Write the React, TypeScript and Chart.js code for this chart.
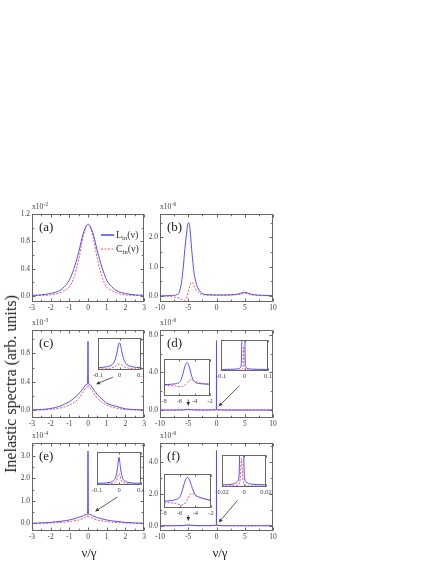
import React, { useEffect, useLayoutEffect, useRef } from "react";
import { Chart, registerables } from "chart.js";

Chart.register(...registerables);

const FONT = "'Liberation Serif', 'Times New Roman', Times, serif";
const BLUE = "#5050ff";
const RED = "#ff5050";
const AXIS = "#666666";
const TEXT = "#444444";

// ---------- panel (a) ----------
const aX = [-3, -2.5, -2, -1.5, -1.25, -1, -0.75, -0.5, -0.25, 0, 0.25, 0.5, 0.75, 1, 1.25, 1.5, 2, 2.5, 3];
const aL = [0.008, 0.015, 0.035, 0.08, 0.14, 0.23, 0.4, 0.64, 0.92, 1.05, 0.93, 0.66, 0.42, 0.23, 0.14, 0.08, 0.035, 0.015, 0.008];
const aC = [0.003, 0.006, 0.015, 0.045, 0.08, 0.13, 0.27, 0.53, 0.88, 1.05, 0.89, 0.55, 0.28, 0.13, 0.08, 0.045, 0.015, 0.006, 0.003];

// ---------- panel (b) ----------
const bLX = [-10, -8, -7, -6.6, -6.2, -5.9, -5.6, -5.3, -5.1, -4.9, -4.7, -4.4, -4.1, -3.9, -3.5, -3.2, -2.8, -2.3, -1.5, 0, 2, 3, 4, 4.5, 5, 5.5, 6, 7, 8, 10];
const bL = [0.01, 0.02, 0.05, 0.12, 0.46, 0.95, 1.6, 2.15, 2.45, 2.5, 2.3, 1.6, 1.0, 0.7, 0.38, 0.24, 0.13, 0.07, 0.05, 0.04, 0.04, 0.05, 0.08, 0.11, 0.13, 0.11, 0.07, 0.04, 0.03, 0.015];
const bCX = [-10, -8.5, -7.5, -7, -6.5, -6, -5.75, -5.5, -5.2, -5, -4.8, -4.6, -4.4, -4.2, -4, -3.7, -3.3, -2.8, -2, -1, 0, 2, 3, 4, 4.5, 5, 5.5, 6, 7, 8, 10];
const bC = [0.0, -0.01, -0.03, -0.05, -0.08, -0.12, -0.15, -0.12, 0.0, 0.15, 0.3, 0.42, 0.47, 0.45, 0.36, 0.24, 0.13, 0.07, 0.04, 0.03, 0.03, 0.03, 0.04, 0.06, 0.08, 0.09, 0.08, 0.05, 0.03, 0.02, 0.01];

// ---------- panel (c) ----------
const cX = [-3, -2.5, -2, -1.5, -1, -0.75, -0.5, -0.25, -0.1, -0.02, 0, 0.02, 0.1, 0.25, 0.5, 0.75, 1, 1.5, 2, 2.5, 3];
const cL = [0.003, 0.01, 0.024, 0.057, 0.12, 0.17, 0.23, 0.31, 0.36, 0.39, 0.97, 0.39, 0.36, 0.31, 0.22, 0.16, 0.1, 0.055, 0.02, 0.008, 0.003];
const cC = [0.001, 0.004, 0.01, 0.03, 0.07, 0.11, 0.165, 0.26, 0.32, 0.35, 0.46, 0.35, 0.32, 0.26, 0.165, 0.11, 0.07, 0.03, 0.01, 0.004, 0.001];

// ---------- panel (d) ----------
const dX = [-10, -8, -6, -5.5, -5, -4.5, -4, -2, -0.06, -0.02, 0, 0.02, 0.06, 2, 5, 8, 10];
const dL = [0, 0, 0.01, 0.04, 0.07, 0.04, 0.01, 0, 0.02, 0.2, 7.4, 0.2, 0.02, 0, 0, 0, 0];
const dC = [0, 0, 0, 0.01, 0.02, 0.03, 0.01, 0, 0.01, 0.05, 0.3, 0.05, 0.01, 0, 0, 0, 0];

// ---------- panel (e) ----------
const eX = [-3, -2.5, -2, -1.5, -1, -0.75, -0.5, -0.25, -0.1, -0.02, 0, 0.02, 0.1, 0.25, 0.5, 0.75, 1, 1.5, 2, 2.5, 3];
const eL = [0.003, 0.02, 0.045, 0.09, 0.15, 0.2, 0.27, 0.34, 0.4, 0.44, 3.22, 0.44, 0.4, 0.34, 0.26, 0.2, 0.15, 0.09, 0.045, 0.02, 0.003];
const eC = [0.001, 0.006, 0.015, 0.04, 0.075, 0.11, 0.15, 0.22, 0.28, 0.32, 0.62, 0.32, 0.28, 0.22, 0.15, 0.11, 0.075, 0.04, 0.015, 0.006, 0.001];

// ---------- panel (f) ----------
const fX = [-10, -8, -6, -5.5, -5, -4.5, -4, -2, -0.06, -0.02, 0, 0.02, 0.06, 2, 5, 8, 10];
const fL = [0, 0, 0.01, 0.03, 0.05, 0.03, 0.01, 0, 0.02, 0.15, 4.7, 0.15, 0.02, 0, 0, 0, 0];
const fC = [0, 0, 0, 0.01, 0.02, 0.02, 0.01, 0, 0.01, 0.04, 0.25, 0.04, 0.01, 0, 0, 0, 0];

// ---------- insets ----------
const icX = [-0.1, -0.08, -0.06, -0.05, -0.04, -0.03, -0.02, -0.015, -0.01, -0.005, 0, 0.005, 0.01, 0.015, 0.02, 0.03, 0.04, 0.05, 0.06, 0.08, 0.1];
const icL = [0.07, 0.08, 0.1, 0.12, 0.14, 0.2, 0.33, 0.45, 0.6, 0.78, 0.85, 0.78, 0.6, 0.45, 0.33, 0.2, 0.14, 0.12, 0.1, 0.08, 0.07];
const icC = [0.03, 0.035, 0.04, 0.05, 0.06, 0.08, 0.1, 0.13, 0.16, 0.18, 0.19, 0.18, 0.16, 0.13, 0.1, 0.08, 0.06, 0.05, 0.04, 0.035, 0.03];

const ieX = [-0.1, -0.08, -0.06, -0.05, -0.04, -0.03, -0.02, -0.015, -0.01, -0.005, 0, 0.005, 0.01, 0.015, 0.02, 0.03, 0.04, 0.05, 0.06, 0.08, 0.1];
const ieL = [0.05, 0.055, 0.06, 0.07, 0.08, 0.11, 0.16, 0.24, 0.37, 0.62, 0.84, 0.62, 0.37, 0.24, 0.16, 0.11, 0.08, 0.07, 0.06, 0.055, 0.05];
const ieC = [0.02, 0.025, 0.03, 0.035, 0.04, 0.05, 0.07, 0.1, 0.16, 0.27, 0.35, 0.27, 0.16, 0.1, 0.07, 0.05, 0.04, 0.035, 0.03, 0.025, 0.02];

const id1X = [-8, -7.5, -7, -6.5, -6, -5.75, -5.5, -5.25, -5, -4.75, -4.5, -4.25, -4, -3.5, -3, -2.5, -2];
const id1L = [0.31, 0.31, 0.32, 0.33, 0.37, 0.45, 0.62, 0.82, 0.9, 0.82, 0.62, 0.45, 0.38, 0.34, 0.33, 0.32, 0.32];
const id1C = [0.29, 0.285, 0.28, 0.27, 0.255, 0.25, 0.26, 0.3, 0.36, 0.41, 0.44, 0.43, 0.4, 0.36, 0.34, 0.33, 0.32];

const if1X = [-8, -7.5, -7, -6.5, -6, -5.75, -5.5, -5.25, -5, -4.75, -4.5, -4.25, -4, -3.5, -3, -2.5, -2];
const if1L = [0.2, 0.21, 0.22, 0.25, 0.32, 0.45, 0.65, 0.83, 0.9, 0.83, 0.66, 0.5, 0.39, 0.32, 0.28, 0.25, 0.22];
const if1C = [0.17, 0.16, 0.15, 0.13, 0.1, 0.09, 0.1, 0.16, 0.26, 0.37, 0.43, 0.42, 0.37, 0.31, 0.28, 0.25, 0.22];

const id2LX = [-0.1, -0.06, -0.04, -0.03, -0.02, -0.016, -0.013, -0.011, -0.005, 0.001, 0.003, 0.006, 0.01, 0.02, 0.03, 0.05, 0.1];
const id2L = [0.05, 0.055, 0.06, 0.07, 0.09, 0.14, 0.35, 1.3, 3, 1.3, 0.35, 0.14, 0.09, 0.07, 0.06, 0.055, 0.05];
const id2CX = [-0.1, -0.03, -0.012, -0.008, -0.006, -0.004, -0.002, 0, 0.004, 0.02, 0.1];
const id2C = [0.02, 0.025, 0.04, 0.08, 0.3, 0.8, 0.3, 0.08, 0.04, 0.025, 0.02];

const if2LX = [-0.02, -0.015, -0.011, -0.008, -0.006, -0.0045, -0.0038, -0.0021, -0.0004, 0.0003, 0.0018, 0.004, 0.008, 0.014, 0.02];
const if2L = [0.07, 0.075, 0.085, 0.11, 0.16, 0.35, 1.3, 3, 1.3, 0.35, 0.16, 0.11, 0.085, 0.075, 0.07];
const if2CX = [-0.02, -0.008, -0.005, -0.0035, -0.0022, -0.001, 0.001, 0.004, 0.02];
const if2C = [0.03, 0.035, 0.06, 0.25, 0.89, 0.25, 0.06, 0.035, 0.03];

// ---------- ticks ----------
const ticksX3 = [-3, -2, -1, 0, 1, 2, 3];
const ticksX10 = [-10, -5, 0, 5, 10];
const ticksYa = [0, 0.4, 0.8, 1.2];
const ticksYb = [0, 1, 2];
const ticksYc = [0, 0.4, 0.8];
const ticksYd = [0, 4, 8];
const ticksYe = [0, 1, 2, 3];
const ticksYf = [0, 2, 4];
const ticksI01 = [-0.1, 0, 0.1];
const ticksI002 = [-0.02, 0, 0.02];
const ticksI82 = [-8, -6, -4, -2];

type Box = { l: number; t: number; r: number; b: number };
type Series = { x: number[]; y: number[]; color: string; dashed?: boolean };
type Arrow = { from: [number, number]; to: [number, number] };
type Spec = {
  key: string;
  inset?: boolean;
  box: Box;
  xr: [number, number];
  yr: [number, number];
  xTicks: number[];
  yTicks?: number[];
  series: Series[];
  label?: string;
  exp?: string;
  legend?: boolean;
  arrows?: Arrow[];
};

const LC = (x: number[], l: number[], cx: number[], c: number[]): Series[] => [
  { x, y: l, color: BLUE },
  { x: cx, y: c, color: RED, dashed: true },
];

const specs: Spec[] = [
  { key: "a", box: { l: 32, t: 214, r: 144, b: 302 }, xr: [-3, 3], yr: [-0.09, 1.2], xTicks: ticksX3, yTicks: ticksYa, series: LC(aX, aL, aX, aC), label: "(a)", exp: "-2", legend: true },
  { key: "b", box: { l: 160, t: 214, r: 273, b: 302 }, xr: [-10, 10], yr: [-0.2, 2.8], xTicks: ticksX10, yTicks: ticksYb, series: LC(bLX, bL, bCX, bC), label: "(b)", exp: "-6" },
  { key: "c", box: { l: 32, t: 330, r: 144, b: 418 }, xr: [-3, 3], yr: [-0.11, 1.13], xTicks: ticksX3, yTicks: ticksYc, series: LC(cX, cL, cX, cC), label: "(c)", exp: "-3", arrows: [{ from: [1.34, 0.466], to: [0.43, 0.367] }] },
  { key: "d", box: { l: 160, t: 330, r: 273, b: 418 }, xr: [-10, 10], yr: [-0.85, 8.53], xTicks: ticksX10, yTicks: ticksYd, series: LC(dX, dL, dX, dC), label: "(d)", exp: "-6", arrows: [{ from: [4.07, 2.6], to: [0.35, 0.37] }, { from: [-5, 1.12], to: [-5, 0.43] }] },
  { key: "e", box: { l: 32, t: 443, r: 144, b: 531 }, xr: [-3, 3], yr: [-0.34, 3.58], xTicks: ticksX3, yTicks: ticksYe, series: LC(eX, eL, eX, eC), label: "(e)", exp: "-4", arrows: [{ from: [1.57, 1.17], to: [0.375, 0.53] }] },
  { key: "f", box: { l: 160, t: 443, r: 273, b: 531 }, xr: [-10, 10], yr: [-0.33, 5.17], xTicks: ticksX10, yTicks: ticksYf, series: LC(fX, fL, fX, fC), label: "(f)", exp: "-6", arrows: [{ from: [3.72, 1.58], to: [0.39, 0.2] }, { from: [-5, 0.67], to: [-5, 0.3] }] },
  { key: "ic", inset: true, box: { l: 98, t: 338, r: 141, b: 370 }, xr: [-0.1, 0.1], yr: [0, 1], xTicks: ticksI01, series: LC(icX, icL, icX, icC) },
  { key: "id1", inset: true, box: { l: 164, t: 359, r: 210, b: 396 }, xr: [-8, -2], yr: [0, 1], xTicks: ticksI82, series: LC(id1X, id1L, id1X, id1C) },
  { key: "id2", inset: true, box: { l: 221, t: 340, r: 268, b: 371 }, xr: [-0.1, 0.1], yr: [0, 1], xTicks: ticksI01, series: LC(id2LX, id2L, id2CX, id2C) },
  { key: "ie", inset: true, box: { l: 97, t: 452, r: 141, b: 485 }, xr: [-0.1, 0.1], yr: [0, 1], xTicks: ticksI01, series: LC(ieX, ieL, ieX, ieC) },
  { key: "if1", inset: true, box: { l: 164, t: 474, r: 211, b: 508 }, xr: [-8, -2], yr: [0, 1], xTicks: ticksI82, series: LC(if1X, if1L, if1X, if1C) },
  { key: "if2", inset: true, box: { l: 222, t: 455, r: 266, b: 487 }, xr: [-0.02, 0.02], yr: [0, 1], xTicks: ticksI002, series: LC(if2LX, if2L, if2CX, if2C) },
];

const MAIN_M = { padL: 0, yW: 30, padT: 14, padR: 8, xH: 14 };
const INSET_M = { padL: 12, yW: 0, padT: 2, padR: 12, xH: 10 };

function minors(t: number[], lo: number, hi: number): number[] {
  if (t.length < 2) return [];
  const step = t[1] - t[0];
  const out: number[] = [];
  for (let v = t[0] - step / 2; v <= hi + 1e-9; v += step) {
    if (v >= lo - 1e-9) out.push(v);
  }
  return out;
}

function makeDeco(spec: Spec) {
  return {
    id: "deco",
    beforeDatasetsDraw(chart: any) {
      if (!spec.inset) return;
      const { ctx, chartArea: a } = chart;
      ctx.save();
      ctx.fillStyle = "#ffffff";
      ctx.fillRect(a.left, a.top, a.right - a.left, a.bottom - a.top);
      ctx.restore();
    },
    afterDatasetsDraw(chart: any) {
      const { ctx, chartArea: a, scales } = chart;
      const xs = scales.x;
      const ys = scales.y;
      ctx.save();
      ctx.strokeStyle = AXIS;
      ctx.lineWidth = 1;
      const L = Math.round(a.left) + 0.5;
      const T = Math.round(a.top) + 0.5;
      const R = Math.round(a.right) - 0.5;
      const B = Math.round(a.bottom) - 0.5;
      ctx.strokeRect(L, T, R - L, B - T);
      const maj = spec.inset ? 2 : 3;
      const mnr = spec.inset ? 1.2 : 1.8;
      ctx.beginPath();
      const vt = (v: number, len: number) => {
        const px = Math.round(xs.getPixelForValue(v)) + 0.5;
        ctx.moveTo(px, B);
        ctx.lineTo(px, B - len);
        ctx.moveTo(px, T);
        ctx.lineTo(px, T + len);
      };
      const ht = (v: number, len: number) => {
        const py = Math.round(ys.getPixelForValue(v)) + 0.5;
        ctx.moveTo(L, py);
        ctx.lineTo(L + len, py);
        ctx.moveTo(R, py);
        ctx.lineTo(R - len, py);
      };
      spec.xTicks.forEach((v) => vt(v, maj));
      if (!spec.inset) {
        minors(spec.xTicks, spec.xr[0], spec.xr[1]).forEach((v) => vt(v, mnr));
        if (spec.yTicks) {
          spec.yTicks.forEach((v) => ht(v, maj));
          minors(spec.yTicks, spec.yr[0], spec.yr[1]).forEach((v) => ht(v, mnr));
        }
      }
      ctx.stroke();

      ctx.fillStyle = "#222222";
      if (spec.label) {
        ctx.font = `13px ${FONT}`;
        ctx.textBaseline = "alphabetic";
        ctx.textAlign = "left";
        ctx.fillText(spec.label, a.left + 7, a.top + 16.5);
      }
      if (spec.exp) {
        ctx.fillStyle = TEXT;
        ctx.font = `7.5px ${FONT}`;
        ctx.textAlign = "left";
        ctx.fillText("x10", a.left, a.top - 5.5);
        const w = ctx.measureText("x10").width;
        ctx.font = `5.5px ${FONT}`;
        ctx.fillText(spec.exp, a.left + w + 0.5, a.top - 8.5);
      }
      if (spec.legend) {
        const items = [
          { name: "L", color: BLUE, dash: [] as number[], y: a.top + 21 },
          { name: "C", color: RED, dash: [2, 1.5], y: a.top + 35 },
        ];
        items.forEach((it) => {
          ctx.strokeStyle = it.color;
          ctx.lineWidth = it.dash.length ? 1 : 1.6;
          ctx.setLineDash(it.dash);
          ctx.beginPath();
          ctx.moveTo(a.right - 43, it.y);
          ctx.lineTo(a.right - 30, it.y);
          ctx.stroke();
          ctx.setLineDash([]);
          ctx.fillStyle = "#333333";
          let x = a.right - 28;
          ctx.font = `10px ${FONT}`;
          ctx.fillText(it.name, x, it.y + 3);
          x += ctx.measureText(it.name).width;
          ctx.font = `6.5px ${FONT}`;
          ctx.fillText("in", x, it.y + 5);
          x += ctx.measureText("in").width;
          ctx.font = `10px ${FONT}`;
          ctx.fillText("(\u03bd)", x, it.y + 3);
        });
      }
      if (spec.arrows) {
        ctx.strokeStyle = "#333333";
        ctx.fillStyle = "#333333";
        ctx.lineWidth = 0.8;
        spec.arrows.forEach((ar) => {
          const x1 = xs.getPixelForValue(ar.from[0]);
          const y1 = ys.getPixelForValue(ar.from[1]);
          const x2 = xs.getPixelForValue(ar.to[0]);
          const y2 = ys.getPixelForValue(ar.to[1]);
          const ang = Math.atan2(y2 - y1, x2 - x1);
          const hl = 4;
          const hw = 1.8;
          const bx = x2 - hl * Math.cos(ang);
          const by = y2 - hl * Math.sin(ang);
          ctx.beginPath();
          ctx.moveTo(x1, y1);
          ctx.lineTo(bx, by);
          ctx.stroke();
          ctx.beginPath();
          ctx.moveTo(x2, y2);
          ctx.lineTo(bx + hw * Math.sin(ang), by - hw * Math.cos(ang));
          ctx.lineTo(bx - hw * Math.sin(ang), by + hw * Math.cos(ang));
          ctx.closePath();
          ctx.fill();
        });
      }
      ctx.restore();
    },
  };
}

const fmtX = (v: number) => String(Math.round(v * 1000) / 1000);
const fmtY = (v: number) => Number(v).toFixed(1);

function Panel({ spec }: { spec: Spec }) {
  const ref = useRef<HTMLCanvasElement>(null);
  const m = spec.inset ? INSET_M : MAIN_M;
  const w = spec.box.r - spec.box.l;
  const h = spec.box.b - spec.box.t;
  const cw = m.padL + m.yW + w + m.padR;
  const ch = m.padT + h + m.xH;
  const left = spec.box.l - m.padL - m.yW;
  const top = spec.box.t - m.padT;

  useEffect(() => {
    const tickSize = spec.inset ? 6.5 : 7.5;
    const chart = new Chart(ref.current as HTMLCanvasElement, {
      type: "line",
      data: {
        datasets: spec.series.map((s) => ({
          data: s.x.map((x, i) => ({ x, y: s.y[i] })),
          borderColor: s.color,
          borderWidth: 1,
          borderDash: s.dashed ? [2, 1.5] : [],
          pointRadius: 0,
          cubicInterpolationMode: "monotone",
          fill: false,
        })),
      } as any,
      options: {
        animation: false,
        responsive: false,
        events: [],
        layout: { padding: { left: m.padL, top: m.padT, right: m.padR, bottom: 0 } },
        plugins: { legend: { display: false }, tooltip: { enabled: false } },
        scales: {
          x: {
            type: "linear",
            min: spec.xr[0],
            max: spec.xr[1],
            grid: { display: false, drawTicks: false },
            border: { display: false },
            ticks: {
              font: { family: FONT, size: tickSize },
              color: TEXT,
              padding: spec.inset ? 1 : 2,
              maxRotation: 0,
              autoSkip: false,
              callback: (v: any) => fmtX(Number(v)),
            },
            afterBuildTicks: (s: any) => {
              s.ticks = spec.xTicks.map((v) => ({ value: v }));
            },
            afterFit: (s: any) => {
              s.height = m.xH;
            },
          },
          y: {
            type: "linear",
            display: !spec.inset,
            min: spec.yr[0],
            max: spec.yr[1],
            grid: { display: false, drawTicks: false },
            border: { display: false },
            ticks: {
              font: { family: FONT, size: tickSize },
              color: TEXT,
              padding: 2,
              autoSkip: false,
              callback: (v: any) => fmtY(Number(v)),
            },
            afterBuildTicks: (s: any) => {
              s.ticks = (spec.yTicks || []).map((v) => ({ value: v }));
            },
            afterFit: (s: any) => {
              s.width = m.yW;
            },
          },
        },
      } as any,
      plugins: [makeDeco(spec)],
    });
    return () => chart.destroy();
  }, [spec]);

  return (
    <canvas
      ref={ref}
      width={cw}
      height={ch}
      style={{ position: "absolute", left, top, width: cw, height: ch }}
    />
  );
}

const textStyle = (size: number): React.CSSProperties => ({
  position: "absolute",
  whiteSpace: "nowrap",
  font: `${size}px ${FONT}`,
  color: "#222",
  lineHeight: 1,
});

export default function App() {
  useLayoutEffect(() => {
    document.body.style.margin = "0";
  }, []);
  return (
    <div style={{ position: "relative", width: 436, height: 564, background: "#ffffff", overflow: "hidden" }}>
      {specs.map((s) => (
        <Panel key={s.key} spec={s} />
      ))}
      <div style={{ ...textStyle(16), left: 11, top: 384, transform: "translate(-50%, -50%) rotate(-90deg)" }}>
        Inelastic spectra (arb. units)
      </div>
      <div style={{ ...textStyle(13), left: 89, top: 552, transform: "translate(-50%, -50%)" }}>ν/γ</div>
      <div style={{ ...textStyle(13), left: 220, top: 552, transform: "translate(-50%, -50%)" }}>ν/γ</div>
    </div>
  );
}
